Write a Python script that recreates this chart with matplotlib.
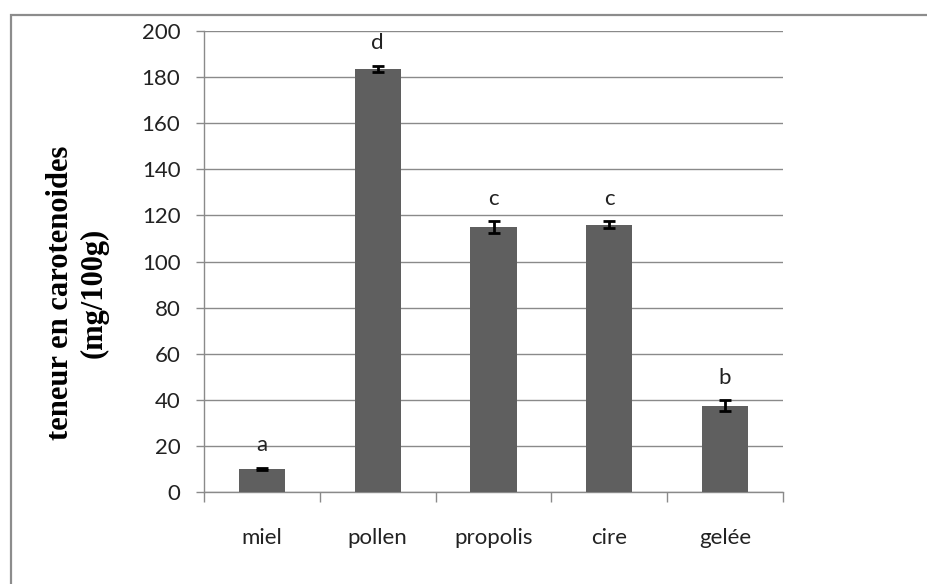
import matplotlib
matplotlib.use("Agg")
import matplotlib.pyplot as plt
from matplotlib.patches import Rectangle

categories = ["miel", "pollen", "propolis", "cire", "gelée"]
values = [10.0, 183.5, 115.0, 116.0, 37.5]
errors = [0.6, 1.5, 2.5, 1.5, 2.2]
letters = ["a", "d", "c", "c", "b"]
yticks = [0, 20, 40, 60, 80, 100, 120, 140, 160, 180, 200]

W, H = 927, 584
fig = plt.figure(figsize=(W / 100, H / 100), dpi=100)
fig.patch.set_facecolor("white")

# outer chart border (partly cut off at right and bottom)
fig.patches.append(Rectangle((11 / W, -0.2), 1.2, 1 - 15 / H + 0.2,
                             transform=fig.transFigure, fill=False,
                             edgecolor="#8c8c8c", linewidth=1.6))

ax = fig.add_axes([204 / W, 1 - 492 / H, (783 - 204) / W, (492 - 31) / H])
x = list(range(len(categories)))
ax.bar(x, values, width=0.4, color="#5f5f5f", zorder=3,
       yerr=errors, error_kw=dict(ecolor="black", elinewidth=2, capsize=4,
                                  capthick=2, zorder=4))
ax.set_xlim(-0.5, len(categories) - 0.5)
ax.set_ylim(0, 200)
ax.set_yticks(yticks)
ax.yaxis.grid(True, color="#8a8a8a", linewidth=1.0, zorder=0)
ax.set_axisbelow(True)

FS = 16
ax.set_xticks(x)
ax.set_xticklabels(categories, fontfamily="Lato", fontsize=FS, color="#222222")
ax.tick_params(axis="x", length=0, pad=26)
ax.set_xticks([i - 0.5 for i in range(len(categories) + 1)], minor=True)
ax.tick_params(axis="x", which="minor", length=7, width=1, color="#8a8a8a",
               direction="out")
ax.tick_params(axis="y", length=6, width=1, color="#8a8a8a", direction="out",
               labelsize=FS, pad=11)
for lab in ax.get_yticklabels():
    lab.set_fontfamily("Lato")
    lab.set_color("#222222")

for s in ["top", "right"]:
    ax.spines[s].set_visible(False)
for s in ["left", "bottom"]:
    ax.spines[s].set_color("#8a8a8a")
    ax.spines[s].set_linewidth(1.0)

for xi, v, e, l in zip(x, values, errors, letters):
    ax.annotate(l, (xi, v + e), xytext=(0, 9), textcoords="offset points",
                ha="center", va="bottom", fontfamily="Lato", fontsize=FS,
                color="#222222")

fig.text(77.5 / W, 1 - 293 / H, "teneur en carotenoides\n(mg/100g)",
         rotation=90, ha="center", va="center", multialignment="center",
         fontfamily="Liberation Serif", fontweight="bold", fontsize=22,
         linespacing=1.2)

fig.savefig("out.png", dpi=100)
